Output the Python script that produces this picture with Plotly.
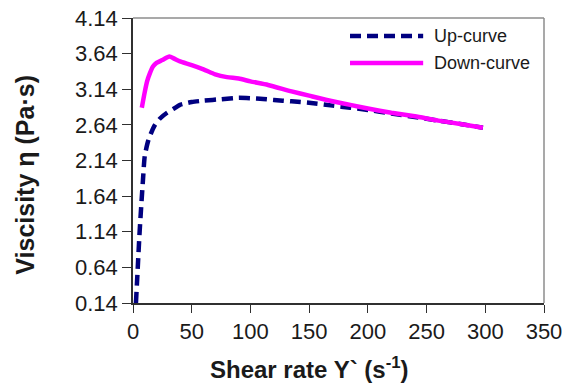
import plotly.graph_objects as go

# ---- data ----
up_x = [2.5, 4, 5.5, 7, 8.5, 10, 13, 18, 23, 29, 35, 40, 50, 60, 75, 90, 105, 120,
        135, 150, 170, 185, 200, 220, 240, 260, 280, 298]
up_y = [0.14, 0.62, 1.10, 1.50, 1.87, 2.20, 2.42, 2.62, 2.73, 2.81, 2.87, 2.92, 2.96,
        2.98, 3.00, 3.02, 3.01, 2.99, 2.97, 2.95, 2.91, 2.88, 2.85, 2.80, 2.75, 2.70,
        2.65, 2.60]

down_x = [7.5, 10, 12, 14.5, 17, 20, 25, 31, 35, 40, 50, 60, 70, 80, 90, 100, 115,
          135, 150, 165, 185, 200, 220, 240, 260, 280, 298]
down_y = [2.88, 3.10, 3.25, 3.37, 3.46, 3.51, 3.55, 3.60, 3.57, 3.53, 3.48, 3.42, 3.35,
          3.31, 3.29, 3.25, 3.20, 3.11, 3.05, 2.99, 2.92, 2.87, 2.81, 2.76, 2.70, 2.65,
          2.60]

y_ticks = [0.14, 0.64, 1.14, 1.64, 2.14, 2.64, 3.14, 3.64, 4.14]
x_ticks = [0, 50, 100, 150, 200, 250, 300, 350]
series_names = ["Up-curve", "Down-curve"]

NAVY = "#000080"
MAGENTA = "#FF00FF"
FONT = "Liberation Sans, Arial, sans-serif"
TXT = "#1a1a1a"

fig = go.Figure()
fig.add_trace(go.Scatter(x=up_x, y=up_y, mode="lines", name=series_names[0],
                         line=dict(color=NAVY, width=4.5, dash="11px,6px", shape="spline",
                                   smoothing=0.6),
                         showlegend=False))
fig.add_trace(go.Scatter(x=down_x, y=down_y, mode="lines", name=series_names[1],
                         line=dict(color=MAGENTA, width=4.5, shape="spline", smoothing=0.6),
                         showlegend=False))

# manual legend (long line samples like the reference)
legend_rows = [(0.937, NAVY, "11px,6px"), (0.842, MAGENTA, "solid")]
for (yy, col, dash), name in zip(legend_rows, series_names):
    fig.add_shape(type="line", xref="paper", yref="paper", x0=0.528, x1=0.706,
                  y0=yy, y1=yy, line=dict(color=col, width=4.5, dash=dash))
    fig.add_annotation(xref="paper", yref="paper", x=0.727, y=yy, text=name,
                       showarrow=False, xanchor="left", yanchor="middle",
                       font=dict(family=FONT, size=18, color=TXT))

# gray top / right border
fig.add_shape(type="line", xref="paper", yref="paper", x0=0, x1=1, y0=1, y1=1,
              line=dict(color="#8c8c8c", width=1.5))
fig.add_shape(type="line", xref="paper", yref="paper", x0=1, x1=1, y0=0, y1=1,
              line=dict(color="#8c8c8c", width=1.5))

# axis titles
fig.add_annotation(xref="paper", yref="paper", x=0.43, y=-0.228,
                   text="<b>Shear rate Y` (s<sup>-1</sup>)</b>", showarrow=False,
                   xanchor="center", yanchor="middle",
                   font=dict(family=FONT, size=24, color=TXT))
fig.add_annotation(xref="paper", yref="paper", x=-0.263, y=0.45,
                   text="<b>Viscisity η (Pa·s)</b>", showarrow=False, textangle=-90,
                   xanchor="center", yanchor="middle",
                   font=dict(family=FONT, size=25, color=TXT))

fig.update_layout(
    width=576, height=385,
    margin=dict(l=133, r=32, t=18, b=82),
    paper_bgcolor="white", plot_bgcolor="white",
    showlegend=False,
    font=dict(family=FONT, color=TXT),
)
fig.update_xaxes(range=[0, 350], tickvals=x_ticks, showgrid=False, zeroline=False,
                 showline=True, linecolor="#303030", linewidth=1.5, automargin=False,
                 ticklabeloverflow="allow",
                 ticks="outside", ticklen=8, tickcolor="#303030", tickwidth=1.2,
                 tickfont=dict(family=FONT, size=22, color=TXT))
fig.update_yaxes(range=[0.14, 4.14], tickvals=y_ticks, tickformat=".2f",
                 showgrid=False, zeroline=False, automargin=False,
                 ticklabeloverflow="allow",
                 showline=True, linecolor="#303030", linewidth=1.5,
                 ticks="outside", ticklen=9, tickcolor="#303030", tickwidth=1.2,
                 tickfont=dict(family=FONT, size=22, color=TXT))

# remove the default 8px page margin so the figure fills the 576x385 window
fig.write_html("out.html", config={"displayModeBar": False},
               post_script="document.body.style.margin='0';")
